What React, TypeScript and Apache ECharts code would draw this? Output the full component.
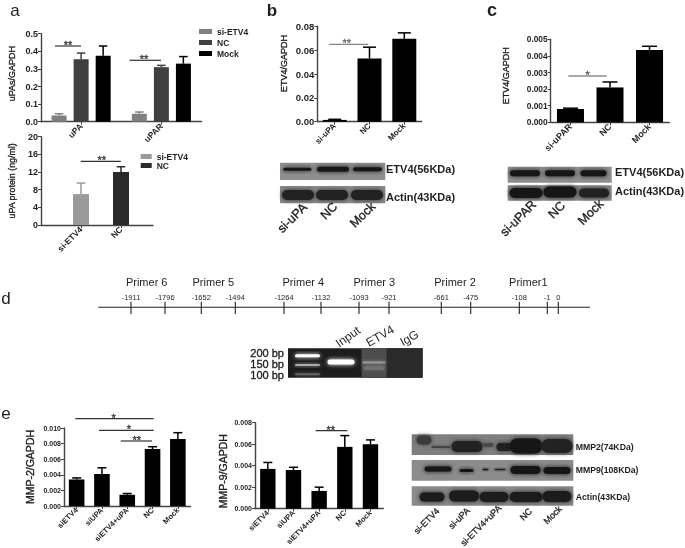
import React, { useEffect, useRef } from "react";
import * as echarts from "echarts";

const FONT = "Liberation Sans, Arial, sans-serif";
const INK = "#1f1f1f";

// ---- data ----
const groupCats = ["uPA", "uPAR"];
const upaSiEtv4 = [0.035, 0.045];
const upaSiEtv4Top = [0.045, 0.055];
const upaNc = [0.355, 0.31];
const upaNcTop = [0.39, 0.32];
const upaMock = [0.375, 0.33];
const upaMockTop = [0.43, 0.37];

const proteinTicks = [1, 2];
const proteinLabels = ["si-ETV4", "NC"];
const proteinSi = 7;
const proteinSiTop = 9.5;
const proteinNc = 12;
const proteinNcTop = 13.2;

const bCats = ["si-uPA", "NC", "Mock"];
const bValues = [0.0015, 0.053, 0.0695];
const bTops = [0.002, 0.0625, 0.0745];

const cCats = ["si-uPAR", "NC", "Mock"];
const cValues = [0.0008, 0.0021, 0.00435];
const cTops = [0.00085, 0.00243, 0.00458];

const eCats = ["siETV4", "siUPA", "siETV4+uPA", "NC", "Mock"];
const mmp2Values = [0.0034, 0.0041, 0.00145, 0.0073, 0.0086];
const mmp2Tops = [0.0036, 0.0049, 0.0016, 0.0076, 0.0094];
const mmp9Values = [0.0037, 0.0036, 0.00165, 0.00575, 0.006];
const mmp9Tops = [0.0043, 0.00385, 0.002, 0.0068, 0.0064];

const primerNames = ["Primer 6", "Primer 5", "Primer 4", "Primer 3", "Primer 2", "Primer1"];
const primerSites = ["-1911", "-1796", "-1652", "-1494", "-1264", "-1132", "-1093", "-921", "-661", "-475", "-108", "-1", "0"];

// ---- layout of the panels ----
const GRIDS = [
  { left: 41, top: 33.7, width: 160.5, height: 88 },
  { left: 41, top: 136.7, width: 112, height: 88.3 },
  { left: 317.3, top: 26.3, width: 104.4, height: 95.4 },
  { left: 550.7, top: 39.3, width: 118.6, height: 83 },
  { left: 64, top: 428, width: 126.5, height: 78 },
  { left: 255, top: 422.7, width: 128.3, height: 88.3 },
];

const axisLine = { show: true, lineStyle: { color: "#444", width: 1.4 } };
const axisTick = (len = 3) => ({ show: true, length: len, lineStyle: { color: "#444", width: 1 } });
const tickText = (size: number) => ({ color: INK, fontFamily: FONT, fontWeight: "bold" as const, fontSize: size, margin: 3 });

function yAxis(gridIndex: number, max: number, interval: number, digits: number, name: string, size: number, gap: number, shift = 0, tick = 9) {
  return {
    type: "value", gridIndex, min: 0, max, interval,
    name, nameLocation: "middle", nameGap: gap, nameRotate: 90,
    nameTextStyle: {
      color: INK, fontFamily: FONT, fontSize: size,
      textBorderColor: INK, textBorderWidth: 0.35,
      padding: shift > 0 ? [0, 0, 0, shift] : shift < 0 ? [0, -shift, 0, 0] : 0,
    },
    axisLine, axisTick: axisTick(), splitLine: { show: false },
    axisLabel: { ...tickText(tick), formatter: (v: number) => v.toFixed(digits) },
  };
}

function catAxis(gridIndex: number, data: string[], size = 8) {
  return {
    type: "category", gridIndex, data,
    axisLine, axisTick: { ...axisTick(), alignWithLabel: true },
    axisLabel: { ...tickText(size), rotate: 45, interval: 0 },
  };
}

function bar(idx: number, name: string, values: any[], color: string, width: number, extra: any = {}) {
  return {
    type: "bar", name, xAxisIndex: idx, yAxisIndex: idx, data: values, barWidth: width,
    itemStyle: { color }, silent: true, ...extra,
  };
}

function errors(idx: number, values: number[], tops: number[], color: string, cap: number, dx = 0, xs?: number[]) {
  return {
    type: "custom", xAxisIndex: idx, yAxisIndex: idx, silent: true,
    data: values.map((v, i) => [xs ? xs[i] : i, v, tops[i]]),
    encode: { x: 0, y: [1, 2] },
    renderItem: (_: any, api: any) => {
      const a = api.coord([api.value(0), api.value(1)]);
      const b = api.coord([api.value(0), api.value(2)]);
      const style = { stroke: color, lineWidth: 1.5 };
      return {
        type: "group",
        children: [
          { type: "line", shape: { x1: a[0] + dx, y1: a[1], x2: a[0] + dx, y2: b[1] }, style },
          { type: "line", shape: { x1: a[0] + dx - cap / 2, y1: b[1], x2: a[0] + dx + cap / 2, y2: b[1] }, style },
        ],
      };
    },
  };
}

// ---- drawn annotations ----
const text = (t: string, x: number, y: number, fontSize: number, o: any = {}) => ({
  type: "text", x, y, rotation: (o.rot || 0) * Math.PI / 180, silent: true, z: 20,
  style: {
    text: t, fontSize, fontFamily: FONT, fontWeight: o.weight || "normal",
    fill: o.fill || INK, align: o.align || "center", verticalAlign: "middle",
    ...(o.semi ? { stroke: o.fill || INK, lineWidth: o.semi } : {}),
  },
});
const line = (x1: number, y1: number, x2: number, y2: number, stroke = "#333", lineWidth = 1.2) => ({
  type: "line", silent: true, z: 20, shape: { x1, y1, x2, y2 }, style: { stroke, lineWidth },
});
const box = (x: number, y: number, width: number, height: number, fill: any) => ({
  type: "rect", silent: true, z: 5, shape: { x, y, width, height }, style: { fill },
});
const band = (cx: number, cy: number, w: number, h: number, color = "#151515") => {
  const core = Math.max(h - 4, 1.5);
  return {
    type: "rect", silent: true, z: 6,
    shape: { x: cx - w / 2 + 1.5, y: cy - core / 2, width: w - 3, height: core, r: core / 2 },
    style: { fill: color, shadowBlur: 4, shadowColor: color },
  };
};
const sig = (x1: number, x2: number, y: number, stars: string, starX: number, stroke = "#333", lw = 1.2) => [
  line(x1, y, x2, y, stroke, lw),
  text(stars, starX, y - 1.2, 11, { fill: stroke, semi: 0.3 }),
];

function graphics() {
  const tickXs = [131, 165, 201.3, 235.3, 284, 321, 359, 389, 441.3, 470.7, 519.3, 547.3, 558.3];
  const primerXs = [146.7, 213.3, 303.3, 374.3, 455, 528.3];
  const els: any[] = [
    text("a", 15, 10, 17), text("b", 272, 10, 17, { weight: "bold" }), text("c", 492, 10, 18, { weight: "bold" }),
    text("d", 6, 298, 17), text("e", 6, 413, 17),

    ...sig(55, 81, 46, "**", 68),
    ...sig(129.5, 161, 60.3, "**", 144),
    ...sig(80.7, 120.7, 161.3, "**", 101.7),
    ...sig(329.3, 368.3, 44.3, "**", 346.7, "#666", 1),
    ...sig(568.3, 606.7, 76, "*", 587.7, "#555", 1),
    ...sig(75.3, 153.7, 418.7, "*", 113.7),
    ...sig(99, 153.7, 430.3, "*", 129),
    ...sig(120.7, 152, 441, "**", 136.7),
    ...sig(315.7, 347.3, 430.7, "**", 330.7),

    // panel d, primer map
    line(98.3, 307.3, 590, 307.3, "#222", 1.1),
    ...tickXs.map((x) => line(x, 301.7, x, 314, "#222", 1.1)),
    ...primerNames.map((n, i) => text(n, primerXs[i], 281.7, 11)),
    ...primerSites.map((n, i) => text(n, tickXs[i], 297.3, 7.5)),

    // gel
    box(288, 348.3, 134.7, 29.4, "#1c1c1c"),
    box(361.5, 348.3, 25.5, 29.4, "#4d4d4d"),
    box(386.5, 348.3, 36, 29.4, "#2a2a2a"),
    band(307.5, 355.7, 28, 7, "#ffffff"),
    band(307.5, 365, 28, 6, "#aaaaaa"),
    band(307.5, 374.3, 28, 6, "#666666"),
    band(341, 362, 30, 9, "#ffffff"),
    band(374, 362.5, 26, 6, "#9a9a9a"),
    band(374, 368, 24, 8, "#707070"),
    text("200 bp", 284, 353, 11, { align: "right", semi: 0.35 }),
    text("150 bp", 284, 364, 11, { align: "right", semi: 0.35 }),
    text("100 bp", 284, 374.5, 11, { align: "right", semi: 0.35 }),
    text("Input", 348, 336.7, 12, { rot: 35 }),
    text("ETV4", 380, 336, 12, { rot: 30 }),
    text("IgG", 409.3, 338, 12, { rot: 30 }),

    // blots b
    box(280, 162.7, 105.3, 17.3, "#8f8f8f"),
    band(297.3, 169.3, 31, 7), band(333, 169.3, 35, 9), band(367.5, 169.3, 32, 8),
    box(280, 186, 105.3, 17.3, "#8a8a8a"),
    band(298, 195, 35, 14, "#222222"), band(332, 195, 35, 14, "#222222"), band(367, 195, 35, 14, "#222222"),
    text("ETV4(56KDa)", 386, 169.3, 11, { weight: "bold", align: "left" }),
    text("Actin(43KDa)", 386, 196.7, 11, { weight: "bold", align: "left" }),
    text("si-uPA", 292.3, 218, 12.5, { rot: 45, semi: 0.35 }),
    text("NC", 329, 211, 12.5, { rot: 45, semi: 0.35 }),
    text("Mock", 362.7, 215, 12.5, { rot: 45, semi: 0.35 }),

    // blots c
    box(507.7, 166.7, 104, 16, "#8f8f8f"),
    band(525, 173.3, 33, 10), band(560, 173.3, 33, 10), band(593.5, 173.3, 29, 10),
    box(507.7, 185.3, 104, 15.4, "#8a8a8a"),
    band(526, 193, 36, 14, "#151515"), band(560, 192, 36, 15, "#151515"), band(594, 193, 33, 13, "#222222"),
    text("ETV4(56KDa)", 615, 172, 11, { weight: "bold", align: "left" }),
    text("Actin(43KDa)", 615, 190.7, 11, { weight: "bold", align: "left" }),
    text("si-uPAR", 518.3, 218.3, 12.5, { rot: 45, semi: 0.35 }),
    text("NC", 556.7, 210, 12.5, { rot: 45, semi: 0.35 }),
    text("Mock", 590.7, 212.3, 12.5, { rot: 45, semi: 0.35 }),

    // blots e
    box(411.7, 434.3, 161.6, 20.7, "#7f7f7f"),
    band(424, 440, 18, 13, "#3a3a3a"),
    band(441, 447, 22, 6, "#444444"),
    band(467, 446.5, 34, 15, "#222222"),
    band(488, 445, 14, 8, "#4a4a4a"),
    band(504, 447, 18, 12, "#222222"),
    band(526, 446, 36, 19, "#151515"),
    band(557, 446, 34, 18, "#222222"),
    box(411.7, 460, 161.6, 20.7, "#8c8c8c"),
    band(438, 469, 30, 9), band(466.5, 470.5, 17, 7), band(485.5, 469.5, 9, 5), band(500, 469.5, 14, 5, "#222222"),
    band(525.5, 470, 33, 12), band(557, 470.5, 30, 11),
    box(411.7, 486.3, 161.6, 19.4, "#8a8a8a"),
    band(432, 497, 28, 13, "#1c1c1c"), band(464, 496, 33, 15, "#1c1c1c"), band(494, 497, 32, 14, "#1c1c1c"),
    band(526, 497, 36, 14, "#1c1c1c"), band(557, 496.5, 32, 15, "#1c1c1c"),
    text("MMP2(74KDa)", 575.7, 446.7, 8.7, { weight: "bold", align: "left" }),
    text("MMP9(108KDa)", 575.7, 470.3, 8.7, { weight: "bold", align: "left" }),
    text("Actin(43KDa)", 575.7, 496.7, 8.7, { weight: "bold", align: "left" }),
    text("si-ETV4", 426.7, 521, 9, { rot: 45, semi: 0.3 }),
    text("si-uPA", 459.3, 518.3, 9, { rot: 45, semi: 0.3 }),
    text("si-ETV4+uPA", 481, 525.5, 9, { rot: 45, semi: 0.3 }),
    text("NC", 526, 514.3, 9, { rot: 45, semi: 0.3 }),
    text("Mock", 552.7, 515, 9, { rot: 45, semi: 0.3 }),
  ];
  return els;
}

function buildOption() {
  return {
    animation: false,
    backgroundColor: "#ffffff",
    grid: GRIDS.map((g) => ({ ...g, containLabel: false })),
    xAxis: [
      catAxis(0, groupCats, 8.5),
      {
        type: "value", gridIndex: 1, min: 0, max: 2.8,
        splitLine: { show: false }, axisLine,
        axisTick: { ...axisTick(), customValues: proteinTicks },
        axisLabel: {
          ...tickText(8.5), rotate: 45, customValues: proteinTicks,
          formatter: (v: number) => proteinLabels[v - 1] || "",
        },
      },
      catAxis(2, bCats, 8.2),
      catAxis(3, cCats, 9),
      catAxis(4, eCats, 7.6),
      catAxis(5, eCats, 7.6),
    ],
    yAxis: [
      yAxis(0, 0.5, 0.1, 1, "uPAs/GAPDH", 9, 25, 8, 9),
      yAxis(1, 20, 4, 0, "uPA protein (ng/ml)", 8.9, 25, 0, 9),
      yAxis(2, 0.08, 0.02, 2, "ETV4/GAPDH", 9, 29, 21, 9.5),
      yAxis(3, 0.005, 0.001, 3, "ETV4/GAPDH", 9, 40, 10, 8.4),
      yAxis(4, 0.01, 0.002, 3, "MMP-2/GAPDH", 10.5, 29, 0, 7),
      yAxis(5, 0.008, 0.002, 3, "MMP-9/GAPDH", 10.5, 27, -11, 7),
    ],
    legend: [
      {
        data: ["si-ETV4", "NC", "Mock"], orient: "vertical", left: 199, top: 27, padding: 0,
        itemWidth: 13, itemHeight: 5, itemGap: 2, icon: "rect", selectedMode: false,
        textStyle: { fontFamily: FONT, fontSize: 8.5, fontWeight: "bold", color: INK },
      },
      {
        data: [
          { name: "si-ETV4", itemStyle: { color: "#9a9a9a" } },
          { name: "NC", itemStyle: { color: "#2a2a2a" } },
        ],
        orient: "vertical", left: 140.7, top: 152, padding: 0,
        itemWidth: 11, itemHeight: 5, itemGap: 0, icon: "rect", selectedMode: false,
        textStyle: { fontFamily: FONT, fontSize: 8.5, fontWeight: "bold", color: INK },
      },
    ],
    series: [
      bar(0, "si-ETV4", upaSiEtv4, "#808080", 15, { barGap: "47%" }),
      bar(0, "NC", upaNc, "#404040", 15),
      bar(0, "Mock", upaMock, "#000000", 15),
      errors(0, upaSiEtv4, upaSiEtv4Top, "#808080", 8.5, -22),
      errors(0, upaNc, upaNcTop, "#404040", 8.5, 0),
      errors(0, upaMock, upaMockTop, "#000000", 8.5, 22),

      bar(1, "si-ETV4", [[proteinTicks[0], proteinSi]], "#9a9a9a", 16),
      bar(1, "NC", [[proteinTicks[1], proteinNc]], "#2a2a2a", 16, { barGap: "-100%" }),
      errors(1, [proteinSi], [proteinSiTop], "#9a9a9a", 8.5, 0, [proteinTicks[0]]),
      errors(1, [proteinNc], [proteinNcTop], "#2a2a2a", 8.5, 0, [proteinTicks[1]]),

      bar(2, "b", bValues, "#000000", 24),
      errors(2, bValues, bTops, "#000000", 13),
      bar(3, "c", cValues, "#000000", 27),
      errors(3, cValues, cTops, "#000000", 15),
      bar(4, "MMP-2", mmp2Values, "#000000", 15.6),
      errors(4, mmp2Values, mmp2Tops, "#000000", 9),
      bar(5, "MMP-9", mmp9Values, "#000000", 15.4),
      errors(5, mmp9Values, mmp9Tops, "#000000", 9),
    ],
    graphic: { elements: graphics() },
  };
}

export default function App() {
  const ref = useRef<HTMLDivElement>(null);
  useEffect(() => {
    const chart = echarts.init(ref.current!, undefined, { renderer: "svg" });
    chart.setOption(buildOption() as any);
    return () => chart.dispose();
  }, []);
  return (
    <div
      ref={ref}
      style={{ position: "absolute", left: 0, top: 0, width: 685, height: 548, filter: "blur(0.35px)" }}
    />
  );
}
